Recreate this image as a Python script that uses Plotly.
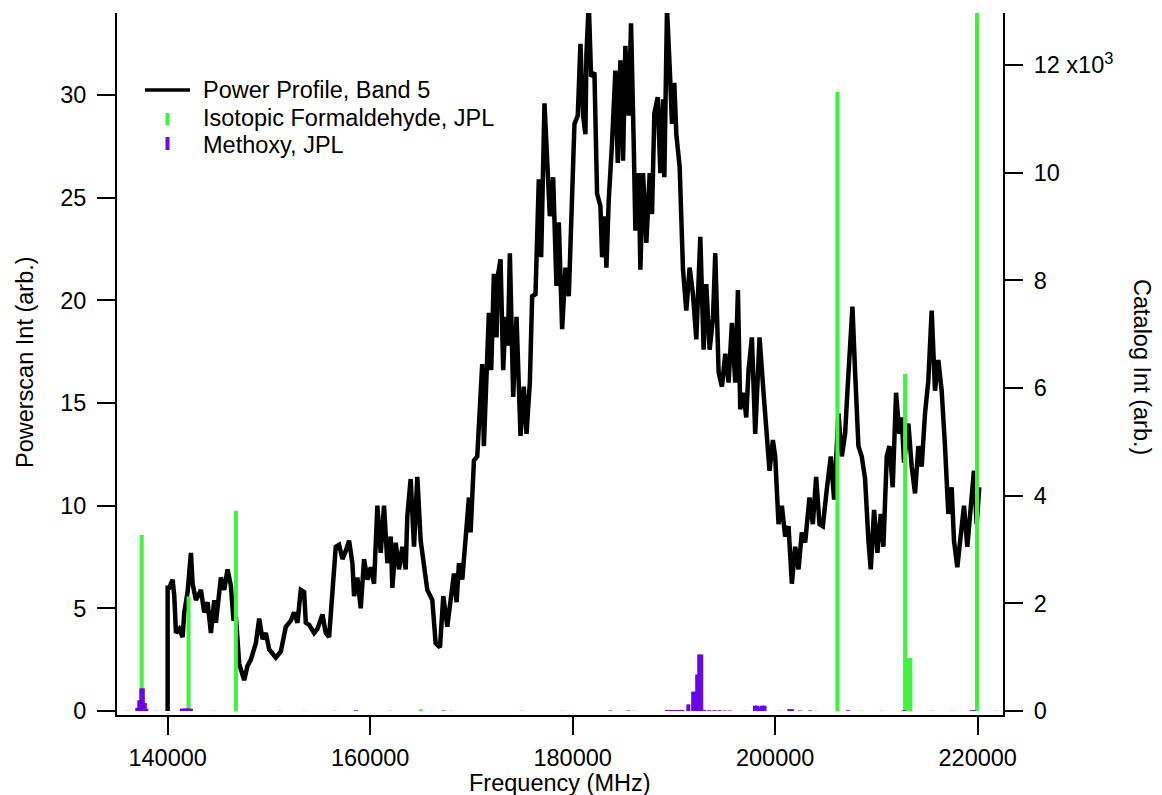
import plotly.graph_objects as go

# ---- Power profile (Band 5), frequency in MHz vs. powerscan intensity ----
power_mhz = [
    140000, 140000, 140164, 140493, 140658, 140822, 141151, 141480, 141644, 141973,
    142302, 142466, 142795, 143288, 143617, 143946, 144274, 144603, 144768, 145261,
    145590, 145918, 146247, 146510, 146740, 147069, 147562, 147891, 148220, 148713,
    149042, 149371, 149700, 150028, 150686, 151179, 151672, 152166, 152494, 152823,
    153152, 153481, 153645, 153974, 154467, 154796, 155289, 155618, 155947, 156276,
    156604, 156933, 157262, 157591, 157920, 158248, 158413, 158742, 159070, 159399,
    159728, 160057, 160386, 160714, 161043, 161372, 161701, 162030, 162194, 162523,
    162852, 163180, 163509, 163674, 164002, 164331, 164660, 164989, 165318, 165646,
    166140, 166468, 166896, 167225, 167619, 167948, 168277, 168540, 168770, 169099,
    169428, 169756, 169921, 170250, 170578,
    170740, 171069, 171233, 171562, 171726, 171957, 172220, 172483, 172614, 172877,
    173140, 173370, 173601, 173798, 174127, 174455, 174850, 175179, 175442, 175771,
    176001, 176330, 176658, 176889, 177217, 177546, 177743, 178072, 178401, 178631,
    178960, 179289, 179618, 179946, 180177, 180505, 180768, 181031, 181262, 181360,
    181590, 181821, 182150, 182412, 182741, 182906, 183136, 183333, 183563, 183892,
    184221, 184451, 184714, 184977, 185207, 185536, 185766, 186029, 186194, 186522,
    186687, 186950, 187279, 187607, 187838, 188068, 188397, 188660, 188923, 189054,
    189317, 189580, 189810, 190041, 190238, 190567, 190895, 191224, 191553, 191882,
    192211, 192605, 192934, 193197, 193526, 193855, 194085, 194414, 194742, 195071,
    195400, 195729, 196057, 196321,
    196550, 196879, 197142, 197372, 197701, 198030, 198457, 198852, 199181, 199444,
    199773, 200003, 200332, 200660, 200989, 201318, 201647, 201976, 202304, 202633,
    202962, 203389, 203718, 204047, 204376, 204705, 205099, 205494, 205823, 206250,
    206579, 206908, 207138, 207401, 207631, 207894, 208223, 208552, 208880, 209209,
    209439, 209768, 210097, 210426, 210689, 211018, 211281, 211609, 211938, 212267,
    212497, 212727, 213155, 213484, 213812, 214141, 214470, 214799, 215128, 215456,
    215785, 216114, 216443, 216772, 217100, 217429, 217659, 217988, 218317, 218646,
    218975, 219304, 219632, 219896, 220159,
]
power_int = [
    0.0, 6.0, 6.0, 6.4, 5.6, 3.8, 4.0, 3.6, 4.8, 5.8,
    7.7, 6.2, 5.4, 5.9, 4.8, 5.3, 3.8, 5.4, 4.3, 6.5,
    5.9, 6.9, 6.1, 4.4, 4.6, 2.3, 1.5, 2.2, 2.5, 3.3,
    4.5, 3.5, 3.8, 3.0, 2.6, 2.9, 4.1, 4.4, 4.8, 4.3,
    5.9, 5.8, 4.3, 4.2, 3.8, 4.0, 4.7, 3.8, 3.6, 5.6,
    8.0, 8.1, 7.4, 7.8, 8.3, 7.2, 5.6, 6.5, 5.0, 7.4,
    6.4, 7.0, 6.2, 10.0, 7.7, 10.0, 7.2, 8.5, 6.0, 8.2,
    6.9, 8.0, 6.9, 9.5, 11.3, 8.0, 11.4, 8.3, 6.9, 5.9,
    5.4, 3.3, 3.1, 5.6, 4.1, 5.3, 6.7, 5.3, 7.2, 6.4,
    8.8, 10.4, 8.7, 12.2, 12.4,
    13.9, 16.9, 12.9, 16.6, 19.4, 16.6, 21.3, 18.2, 21.2, 22.0,
    16.6, 19.2, 17.8, 22.3, 15.3, 19.2, 13.4, 15.8, 13.5, 16.0,
    20.2, 20.3, 25.9, 22.1, 29.6, 26.2, 24.1, 26.0, 20.7, 23.8,
    18.6, 21.6, 20.2, 25.1, 28.6, 29.0, 32.5, 29.0, 28.1, 32.0,
    34.5, 30.9, 31.1, 25.2, 24.6, 22.1, 24.1, 21.6, 24.9, 27.7,
    31.2, 26.7, 31.7, 26.8, 32.4, 29.0, 33.5, 27.7, 23.4, 26.2,
    21.5, 26.2, 22.8, 26.2, 24.2, 29.1, 29.9, 26.2, 29.8, 26.0,
    34.2, 31.4, 28.6, 30.6, 28.1, 26.5, 21.5, 19.5, 21.6, 20.3,
    18.1, 23.1, 17.6, 20.8, 17.6, 19.1, 22.3, 16.5, 15.8, 17.4,
    16.0, 18.9, 16.0, 20.5,
    14.7, 15.5, 14.3, 16.6, 18.2, 13.5, 18.2, 15.5, 13.4, 11.7,
    13.2, 12.4, 9.1, 10.0, 8.5, 9.0, 6.2, 8.0, 6.9, 8.7,
    8.2, 10.4, 9.1, 11.4, 9.1, 9.0, 10.8, 12.4, 10.3, 14.5,
    12.4, 13.5, 15.6, 18.2, 19.7, 16.5, 12.9, 12.4, 11.3, 8.3,
    6.9, 9.8, 7.7, 9.6, 8.0, 12.4, 12.9, 10.9, 15.5, 13.5,
    14.3, 12.1, 14.0, 11.9, 10.6, 12.9, 11.9, 14.5, 16.1, 19.5,
    15.6, 17.1, 15.6, 12.9, 9.6, 10.9, 8.3, 7.0, 8.3, 10.0,
    8.0, 9.6, 11.7, 9.1, 10.9,
]

# ---- Catalog stick spectra (JPL), intensity on the right-hand axis ----
formaldehyde_mhz = [
    136000, 137440, 138800, 142070, 144500, 146740, 148500, 151000, 153500,
    156500, 162000, 165000, 168000, 175000, 179000, 186000, 194000, 197000,
    200500, 204000, 206150, 208500, 210500, 212830, 213150, 213350, 215500,
    217500, 219930, 221800,
]
formaldehyde_int = [
    6, 3270, 6, 2130, 6, 3720, 6, 6, 6,
    6, 6, 30, 6, 6, 6, 6, 6, 6,
    6, 6, 11500, 6, 6, 6260, 985, 985, 6,
    6, 15000, 6,
]

methoxy_mhz = [
    137000, 137200, 137400, 137550, 137750, 137900,
    141400, 141700, 142000, 142300,
    158590, 167250, 183730, 185500,
    189300, 189700, 190100, 190500, 190800,
    191420, 191900, 192150, 192300, 192500, 192700,
    193000, 193500, 194000, 194500, 195000, 195500,
    198000, 198250, 198450, 198700, 198950,
    201400, 201650, 202470, 203450, 207200, 212730, 219400, 219650,
]
methoxy_int = [
    60, 200, 420, 420, 150, 40,
    45, 50, 50, 45,
    15, 10, 10, 10,
    20, 20, 20, 20, 20,
    125, 360, 360, 680, 1050, 1050,
    20, 15, 15, 15, 10, 10,
    100, 100, 70, 100, 100,
    35, 35, 10, 10, 15, 15, 15, 15,
]

# ---- Axis ticks ----
x_ticks = [140000, 160000, 180000, 200000, 220000]
x_tick_labels = ["140000", "160000", "180000", "200000", "220000"]
left_ticks = [0, 5, 10, 15, 20, 25, 30]
right_ticks = [0, 2000, 4000, 6000, 8000, 10000, 12000]
right_tick_labels = ["0", "2", "4", "6", "8", "10", "12 x10<sup>3</sup>"]

legend_labels = ["Power Profile, Band 5", "Isotopic Formaldehyde, JPL", "Methoxy, JPL"]

BLACK = "#000000"
GREEN = "#3ef23e"
PURPLE = "#6b06e6"
FONT = "Liberation Sans, Arial, Helvetica, sans-serif"
FS = 23.5

# plot-area geometry in pixels
W, H = 1162, 795
L, R, T, B = 117, 159, 13, 80
PW, PH = W - L - R, H - T - B


def px(xp):
    return (xp - L) / PW


def py(yp):
    return (H - B - yp) / PH


def sticks(freqs, ints):
    xs, ys = [], []
    for f, h in zip(freqs, ints):
        xs += [f, f, None]
        ys += [0, h, None]
    return xs, ys


fig = go.Figure()

fig.add_trace(go.Scatter(
    x=power_mhz, y=power_int, mode="lines", name=legend_labels[0],
    line=dict(color=BLACK, width=4.5), yaxis="y", showlegend=False,
))

gx, gy = sticks(formaldehyde_mhz, formaldehyde_int)
fig.add_trace(go.Scatter(
    x=gx, y=gy, mode="lines", name=legend_labels[1],
    line=dict(color=GREEN, width=4), yaxis="y2", showlegend=False,
))

mx, my = sticks(methoxy_mhz, methoxy_int)
fig.add_trace(go.Scatter(
    x=mx, y=my, mode="lines", name=legend_labels[2],
    line=dict(color=PURPLE, width=4), yaxis="y2", showlegend=False,
))

axis_common = dict(
    showline=True, linecolor=BLACK, linewidth=2,
    ticks="outside", ticklen=18, tickwidth=2, tickcolor=BLACK,
    showgrid=False, zeroline=False,
    tickfont=dict(family=FONT, size=FS, color=BLACK),
)

fig.update_layout(
    width=W, height=H,
    margin=dict(l=L, r=R, t=T, b=B, pad=0),
    paper_bgcolor="white", plot_bgcolor="white",
    showlegend=False,
    xaxis=dict(range=[135000, 222500], tickvals=x_ticks, ticktext=x_tick_labels,
               ticklabelstandoff=3, **axis_common),
    yaxis=dict(range=[-0.195, 34.0], tickvals=left_ticks,
               ticklabelstandoff=6, **axis_common),
    yaxis2=dict(range=[-74, 12970], overlaying="y", side="right",
                tickvals=right_ticks, ticktext=right_tick_labels,
                ticklabelstandoff=6, **axis_common),
)

annotations = [
    dict(text="Frequency (MHz)", x=0.5, y=py(783), xanchor="center", yanchor="middle"),
    dict(text="Powerscan Int (arb.)", x=px(25), y=py(362), textangle=-90,
         xanchor="center", yanchor="middle"),
    dict(text="Catalog Int (arb.)", x=px(1142), y=py(367), textangle=90,
         xanchor="center", yanchor="middle"),
    dict(text=legend_labels[0], x=px(201), y=py(90), xanchor="left", yanchor="middle"),
    dict(text=legend_labels[1], x=px(201), y=py(118), xanchor="left", yanchor="middle"),
    dict(text=legend_labels[2], x=px(201), y=py(145), xanchor="left", yanchor="middle"),
]
for a in annotations:
    a.update(xref="paper", yref="paper", showarrow=False,
             font=dict(family=FONT, size=FS, color=BLACK))
fig.update_layout(annotations=annotations)

# legend keys
fig.update_layout(shapes=[
    dict(type="line", xref="paper", yref="paper", x0=px(145), x1=px(190),
         y0=py(90), y1=py(90), line=dict(color=BLACK, width=3.5)),
    dict(type="line", xref="paper", yref="paper", x0=px(167.5), x1=px(167.5),
         y0=py(113), y1=py(125), line=dict(color=GREEN, width=4)),
    dict(type="line", xref="paper", yref="paper", x0=px(167.5), x1=px(167.5),
         y0=py(137), y1=py(150), line=dict(color=PURPLE, width=4)),
])

fig.write_html("out.html")
